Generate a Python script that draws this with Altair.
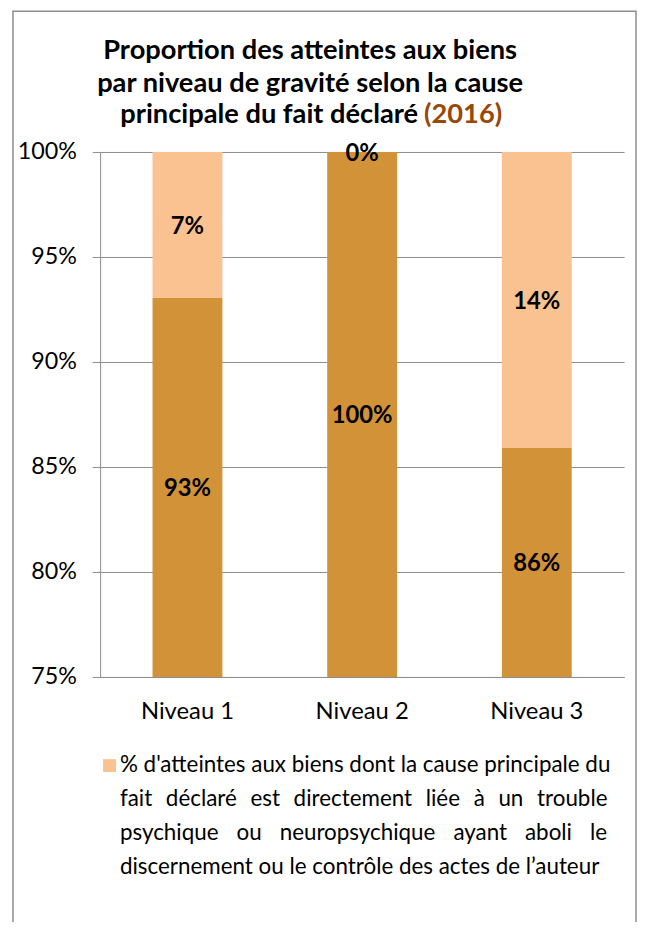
import altair as alt
import pandas as pd

categories = ["Niveau 1", "Niveau 2", "Niveau 3"]
dark_values = [93.07, 100.0, 85.9]
light_values = [6.93, 0.0, 14.1]
dark_labels = ["93%", "100%", "86%"]
light_labels = ["7%", "0%", "14%"]
series = ["autre cause", "trouble psychique"]
y_ticks = [75, 80, 85, 90, 95, 100]

title_lines = ["Proportion des atteintes aux biens",
               "par niveau de gravité selon la cause",
               "principale du fait déclaré"]
title_year = "(2016)"
legend_lines = ["% d'atteintes aux biens dont la cause principale du",
                "fait déclaré est directement liée à un trouble",
                "psychique ou neuropsychique ayant aboli le",
                "discernement ou le contrôle des actes de l\u2019auteur"]
# extra spacing per word gap to imitate the justified paragraph
legend_extra_gap = ["", "\u2009\u2006\u200a", "\u00a0\u2009\u2006", ""]

DARK = "#D29237"
LIGHT = "#FAC191"
GRID = "#8C8C8C"
FONT = "Lato"

rows = []
for c, d, l, dl, ll in zip(categories, dark_values, light_values, dark_labels, light_labels):
    rows.append({"cat": c, "series": series[0], "start": 0.0, "end": d, "label": dl})
    rows.append({"cat": c, "series": series[1], "start": d, "end": d + l, "label": ll})
df = pd.DataFrame(rows)

xscale = alt.Scale(domain=categories, paddingInner=0.6, paddingOuter=0.3)
yscale = alt.Scale(domain=[75, 100], clamp=True, nice=False, zero=False)

base = alt.Chart(df)

bars = base.mark_bar().encode(
    x=alt.X("cat:N", scale=xscale, sort=categories, title=None,
            axis=alt.Axis(labelAngle=0, ticks=False, domainColor=GRID, domainWidth=1,
                          labelFont=FONT, labelFontSize=24, labelColor="#000000",
                          labelPadding=23)),
    y=alt.Y("start:Q", scale=yscale, title=None,
            axis=alt.Axis(values=y_ticks, labelExpr="datum.value + '%'", grid=True,
                          gridColor=GRID, gridWidth=1, tickColor=GRID, tickSize=8,
                          domainColor=GRID, labelFont=FONT, labelFontSize=23.5,
                          labelColor="#000000", labelPadding=16)),
    y2="end:Q",
    color=alt.Color("series:N", scale=alt.Scale(domain=series, range=[DARK, LIGHT]), legend=None),
)

texts = base.transform_calculate(
    mid="(max(datum.start, 75) + datum.end) / 2"
).mark_text(font=FONT, fontSize=24, fontWeight="bold", color="#000000", dy=2).encode(
    x=alt.X("cat:N", scale=xscale, sort=categories),
    y=alt.Y("mid:Q", scale=yscale),
    text="label:N",
)

layers = [bars, texts]

# frame around the whole figure
frame = alt.Chart(pd.DataFrame({"k": [0]})).mark_rect(
    fillOpacity=0, stroke=GRID, strokeWidth=1.5
).encode(x=alt.value(-88), x2=alt.value(541), y=alt.value(-142), y2=alt.value(820))
layers.insert(0, frame)

# title
TS = 27.5
title_y = [-102, -69, -37]
for i, line in enumerate(title_lines[:2]):
    layers.append(alt.Chart(pd.DataFrame({"t": [line]})).mark_text(
        font=FONT, fontSize=TS, fontWeight="bold", color="#000000", align="center", baseline="middle"
    ).encode(text="t:N", x=alt.value(212), y=alt.value(title_y[i])))
layers.append(alt.Chart(pd.DataFrame({"t": [title_lines[2]]})).mark_text(
    font=FONT, fontSize=TS, fontWeight="bold", color="#000000", align="right", baseline="middle"
).encode(text="t:N", x=alt.value(321), y=alt.value(title_y[2])))
layers.append(alt.Chart(pd.DataFrame({"t": [title_year]})).mark_text(
    font=FONT, fontSize=TS, fontWeight="bold", color="#984807", align="left", baseline="middle"
).encode(text="t:N", x=alt.value(327), y=alt.value(title_y[2])))

# legend
layers.append(alt.Chart(pd.DataFrame({"k": [0]})).mark_rect(color=LIGHT).encode(
    x=alt.value(3), x2=alt.value(16), y=alt.value(613), y2=alt.value(626)))
leg_y = [619, 653, 688, 722]
for i, line in enumerate(legend_lines):
    sep = " " + legend_extra_gap[i]
    shown = sep.join(line.split(" "))
    layers.append(alt.Chart(pd.DataFrame({"t": [shown]})).mark_text(
        font=FONT, fontSize=22.6, color="#000000", align="left", baseline="middle"
    ).encode(text="t:N", x=alt.value(20), y=alt.value(leg_y[i])))

chart = alt.layer(*layers).properties(
    width=529, height=530,
    padding={"left": 93, "top": 141, "right": 14, "bottom": 243},
    autosize=alt.AutoSizeParams(type="none"),
).configure_view(stroke=None)

chart.save("out.html", embed_options={"renderer": "svg", "actions": False})
